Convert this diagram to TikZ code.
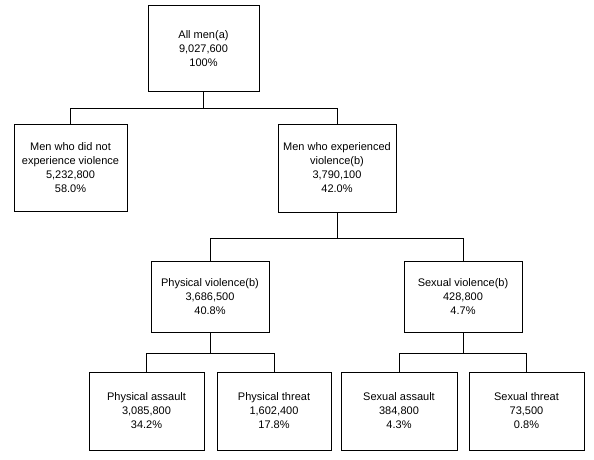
\documentclass[tikz,border=0pt]{standalone}
\usepackage{fontspec}
\setmainfont{Liberation Sans}
\usepackage{tikz}

\begin{document}
\begin{tikzpicture}[x=1pt, y=-1pt, line width=1pt,
  box/.style={draw, rectangle, inner sep=0pt, align=center, font=\fontsize{11}{14}\selectfont}]
\useasboundingbox[fill=white] (0,0) rectangle (594,460);
\node[box, minimum width=111pt, minimum height=85pt] (all) at (203.5,48.5) {All men(a)\\9,027,600\\100\%};
\node[box, minimum width=113pt, minimum height=87pt] (nv) at (70.5,167.5) {Men who did not\\experience violence\\5,232,800\\58.0\%};
\node[box, minimum width=118pt, minimum height=88pt] (ev) at (337,168) {Men who experienced\\violence(b)\\3,790,100\\42.0\%};
\node[box, minimum width=118pt, minimum height=71pt] (pv) at (210,296.5) {Physical violence(b)\\3,686,500\\40.8\%};
\node[box, minimum width=118pt, minimum height=71pt] (sv) at (463,296.5) {Sexual violence(b)\\428,800\\4.7\%};
\node[box, minimum width=115pt, minimum height=78pt] (pa) at (146.5,411) {Physical assault\\3,085,800\\34.2\%};
\node[box, minimum width=114pt, minimum height=78pt] (pt) at (274,411) {Physical threat\\1,602,400\\17.8\%};
\node[box, minimum width=116pt, minimum height=78pt] (sa) at (399,411) {Sexual assault\\384,800\\4.3\%};
\node[box, minimum width=115pt, minimum height=78pt] (st) at (526.5,411) {Sexual threat\\73,500\\0.8\%};
\draw (all.south) -- ++(0,17) -| (nv.north);
\draw (all.south) -- ++(0,17) -| (ev.north);
\draw (ev.south) -- ++(0,26) -| (pv.north);
\draw (ev.south) -- ++(0,26) -| (sv.north);
\draw (pv.south) -- ++(0,21) -| (pa.north);
\draw (pv.south) -- ++(0,21) -| (pt.north);
\draw (sv.south) -- ++(0,21) -| (sa.north);
\draw (sv.south) -- ++(0,21) -| (st.north);
\end{tikzpicture}
\end{document}
